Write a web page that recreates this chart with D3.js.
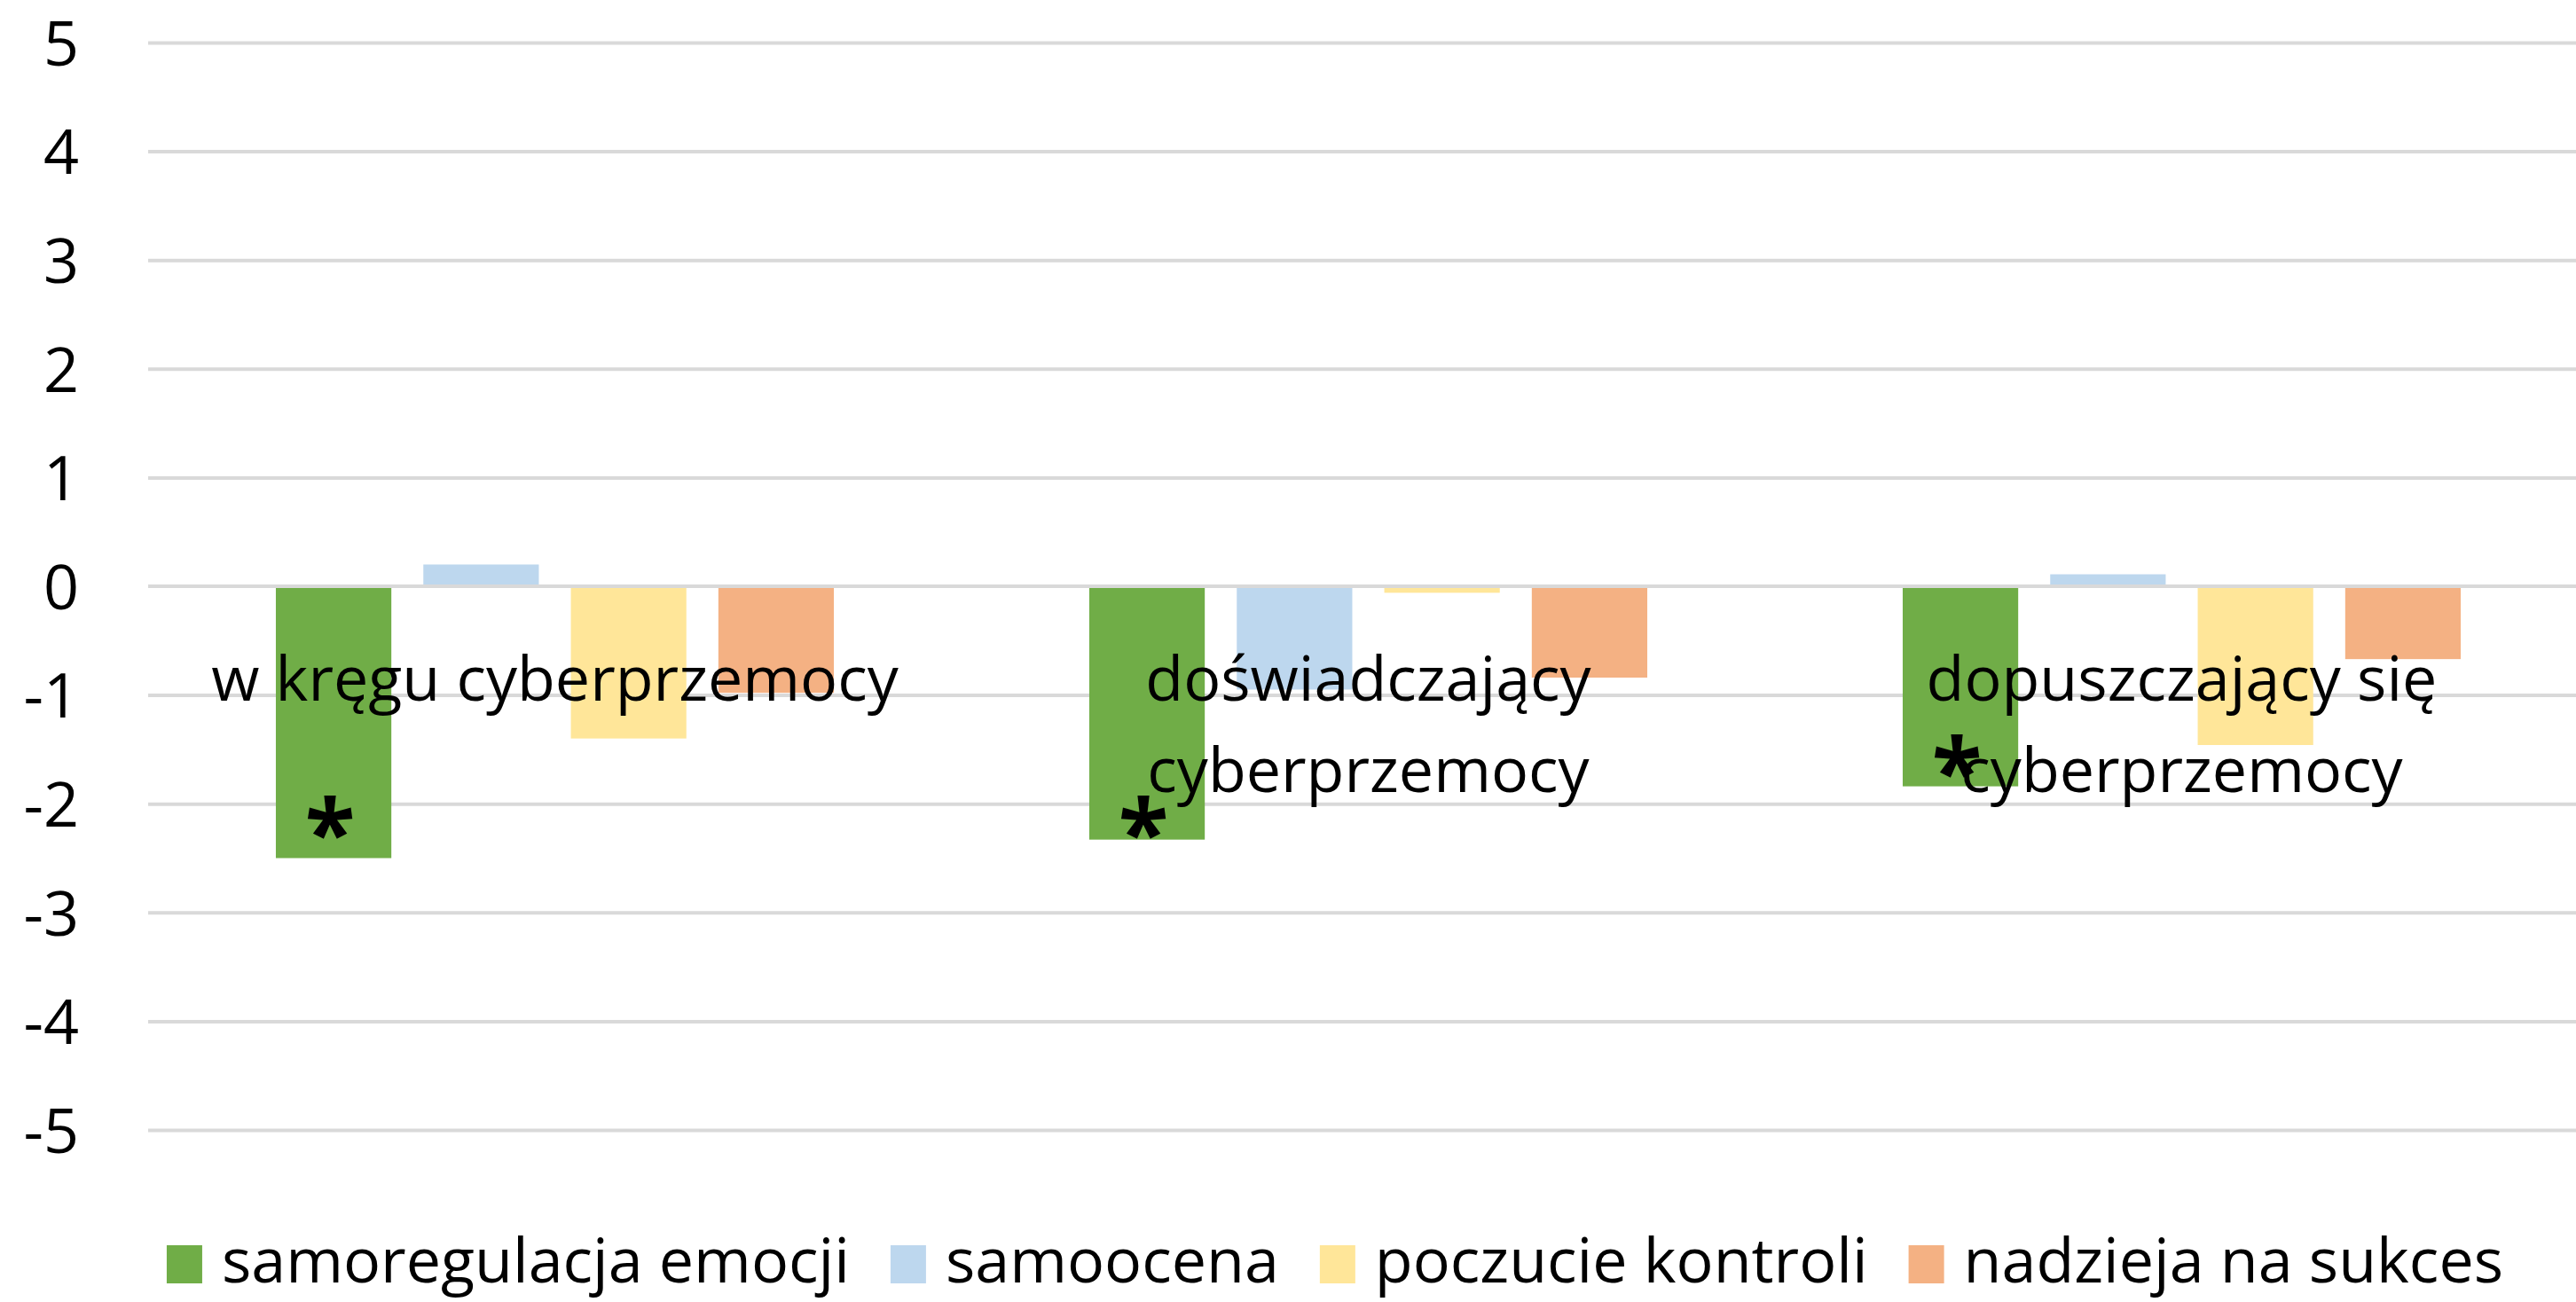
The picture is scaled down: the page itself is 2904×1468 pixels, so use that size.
<!DOCTYPE html>
<html>
<head>
<meta charset="utf-8">
<script src="https://cdn.jsdelivr.net/npm/d3@7"></script>
<style>
  html, body { margin: 0; padding: 0; background: #fff; }
  svg text { font-family: "Open Sans", "Noto Sans", sans-serif; fill: #000; }
</style>
</head>
<body>
<svg id="chart" width="2904" height="1468"></svg>
<script>
// data
var categories = ["w kręgu cyberprzemocy", "doświadczający cyberprzemocy", "dopuszczający się cyberprzemocy"];
var seriesNames = ["samoregulacja emocji", "samoocena", "poczucie kontroli", "nadzieja na sukces"];
var samoregulacja = [-2.50, -2.33, -1.84];
var samoocena = [0.20, -0.95, 0.11];
var kontrola = [-1.40, -0.06, -1.46];
var nadzieja = [-0.98, -0.84, -0.67];
var significant = ["*", "*", "*"];   // marker on samoregulacja emocji
var markerAt = [-2.1, -2.1, -1.53];  // where the marker sits, in y units
var yTicks = [-5, -4, -3, -2, -1, 0, 1, 2, 3, 4, 5];

var seriesValues = [samoregulacja, samoocena, kontrola, nadzieja];
var colors = ["#70AD47", "#BDD7EE", "#FFE699", "#F4B183"];

var svg = d3.select("#chart");
var W = +svg.attr("width");

var plotL = 167, plotR = 2918, plotT = 48, plotB = 1274;
var fontSize = 70;

var x0 = d3.scaleBand().domain(categories).range([plotL, plotR])
  .paddingInner(0.314).paddingOuter(0.157);
var x1 = d3.scaleBand().domain(seriesNames).range([0, x0.bandwidth()])
  .paddingInner(0.217).paddingOuter(0);
var y = d3.scaleLinear().domain([-5, 5]).range([plotB, plotT]);
var color = d3.scaleOrdinal().domain(seriesNames).range(colors);

// gridlines
svg.append("g")
  .attr("transform", "translate(" + plotL + ",0)")
  .call(d3.axisLeft(y).tickValues(yTicks.filter(d => d != 0)).tickSize(-(W - plotL)).tickFormat(""))
  .call(g => g.select(".domain").remove())
  .selectAll("line").attr("stroke", "#d9d9d9").attr("stroke-width", 4);

// tick labels (plain hyphen for negatives, as in the original)
svg.append("g")
  .attr("transform", "translate(" + plotL + ",0)")
  .call(d3.axisLeft(y).tickValues(yTicks).tickSize(0).tickPadding(78).tickFormat(d => String(d)))
  .call(g => g.select(".domain").remove())
  .selectAll("text")
  .attr("font-size", fontSize)
  .attr("font-family", null)
  .attr("fill", "#000")
  .attr("dy", "0.36em");

// bars
var rows = categories.map((c, i) => ({cat: c, vals: seriesNames.map((s, j) => ({s: s, v: seriesValues[j][i]}))}));

var groups = svg.append("g").selectAll("g").data(rows).enter()
  .append("g")
  .attr("transform", d => "translate(" + x0(d.cat) + ",0)");

groups.selectAll("rect").data(d => d.vals).enter()
  .append("rect")
  .attr("x", d => x1(d.s))
  .attr("width", x1.bandwidth())
  .attr("y", d => y(Math.max(0, d.v)))
  .attr("height", d => Math.abs(y(d.v) - y(0)))
  .attr("fill", d => color(d.s));

// zero line on top of bars
svg.append("line")
  .attr("x1", plotL).attr("x2", W)
  .attr("y1", y(0)).attr("y2", y(0))
  .attr("stroke", "#d9d9d9").attr("stroke-width", 4);

// category labels, wrapped to the band step
var maxW = x0.step() * 0.98;
svg.append("g").selectAll("text").data(categories).enter()
  .append("text")
  .attr("font-size", fontSize)
  .attr("text-anchor", "middle")
  .attr("x", d => x0(d) + x0.bandwidth() / 2)
  .attr("y", 790)
  .each(function(d) {
    var t = d3.select(this);
    var words = d.split(" "), line = [], lines = [];
    var tmp = t.append("tspan");
    words.forEach(w => {
      var test = line.concat([w]).join(" ");
      tmp.text(test);
      if (tmp.node().getComputedTextLength() > maxW && line.length) {
        lines.push(line.join(" "));
        line = [w];
      } else {
        line.push(w);
      }
    });
    lines.push(line.join(" "));
    tmp.remove();
    lines.forEach((l, k) => {
      t.append("tspan")
        .attr("x", t.attr("x"))
        .attr("dy", k == 0 ? 0 : 103)
        .text(l);
    });
  });

// significance markers inside the green bars
svg.append("g").selectAll("text").data(categories).enter()
  .append("text")
  .attr("font-size", 104)
  .attr("font-weight", "bold")
  .attr("text-anchor", "middle")
  .attr("x", (d, i) => x0(d) + x1(seriesNames[0]) + x1.bandwidth() / 2 - 4)
  .attr("y", (d, i) => y(markerAt[i]) + 58)
  .text((d, i) => significant[i]);

// legend
var legend = svg.append("g");
var items = legend.selectAll("g").data(seriesNames).enter().append("g");
items.append("rect")
  .attr("x", 0).attr("y", 1404)
  .attr("width", 40).attr("height", 43)
  .attr("fill", d => color(d));
items.append("text")
  .attr("x", 62).attr("y", 1446)
  .attr("font-size", fontSize)
  .text(d => d);

var pos = 0, offsets = [];
items.each(function() {
  offsets.push(pos);
  pos += d3.select(this).select("text").node().getComputedTextLength() + 62 + 46;
});
var total = pos - 46;
var start = 1505 - total / 2;
items.attr("transform", (d, i) => "translate(" + (start + offsets[i]) + ",0)");
</script>
</body>
</html>
